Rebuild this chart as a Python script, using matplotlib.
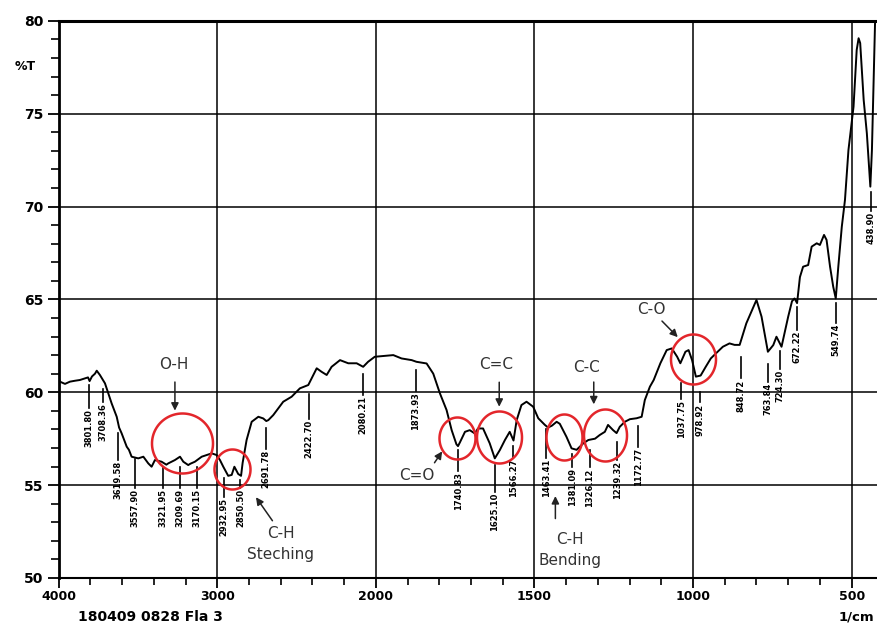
import numpy as np
import matplotlib
matplotlib.use("Agg")
import matplotlib.pyplot as plt
from matplotlib.path import Path
from matplotlib.ticker import FixedLocator

# espectro FTIR (1/cm, %T)
wavenumber = [4000, 3992, 3960, 3929, 3897, 3866, 3834, 3815, 3805, 3790, 3771, 3760,
              3740, 3708, 3687, 3666, 3634, 3619, 3603, 3571, 3557, 3540, 3498, 3466,
              3435, 3414, 3393, 3351, 3321, 3309, 3267, 3235, 3214, 3183, 3170, 3141,
              3098, 3067, 3035, 3004, 2983, 2962, 2931, 2909, 2892, 2868, 2850, 2840,
              2815, 2783, 2741, 2710, 2691, 2678, 2647, 2584, 2531, 2479, 2426, 2373,
              2342, 2310, 2279, 2226, 2174, 2121, 2080, 2049, 2007, 1977, 1945, 1919,
              1887, 1872, 1840, 1819, 1798, 1777, 1761, 1746, 1741, 1735, 1719, 1704,
              1688, 1678, 1662, 1641, 1625, 1609, 1593, 1578, 1566, 1556, 1541, 1525,
              1504, 1488, 1467, 1457, 1445, 1430, 1420, 1399, 1383, 1367, 1346, 1330,
              1309, 1294, 1278, 1268, 1252, 1241, 1231, 1215, 1199, 1178, 1162, 1152,
              1136, 1124, 1103, 1083, 1067, 1050, 1040, 1024, 1014, 1003, 991, 976,
              960, 944, 928, 906, 885, 869, 853, 832, 800, 784, 764, 747, 737, 721,
              700, 688, 680, 672, 663, 653, 637, 626, 610, 600, 587, 579, 568, 558,
              550, 542, 531, 521, 510, 494, 484, 478, 473, 462, 452, 441, 436, 431,
              426, 422]
transmittance = [60.75, 60.57, 60.45, 60.57, 60.62, 60.66, 60.75, 60.8, 60.6, 60.85, 61.0, 61.16,
                 60.93, 60.48, 59.94, 59.4, 58.68, 58.1, 57.79, 57.07, 56.9, 56.53, 56.44, 56.53,
                 56.17, 55.99, 56.35, 56.26, 56.1, 56.17, 56.35, 56.53, 56.26, 56.08, 56.15, 56.26,
                 56.53, 56.62, 56.71, 56.62, 56.35, 55.99, 55.5, 55.55, 55.99, 55.6, 55.5, 56.2,
                 57.43, 58.41, 58.68, 58.59, 58.45, 58.5, 58.77, 59.49, 59.76, 60.21, 60.39, 61.29,
                 61.1, 60.93, 61.37, 61.73, 61.56, 61.56, 61.37, 61.64, 61.91, 61.95, 62.0, 61.82,
                 61.73, 61.64, 61.55, 61.0, 59.94, 59.04, 57.96, 57.2, 57.1, 57.3, 57.87, 57.96,
                 57.78, 58.05, 58.05, 57.25, 56.44, 56.89, 57.43, 57.87, 57.4, 58.5, 59.31, 59.49,
                 59.22, 58.6, 58.24, 58.1, 58.2, 58.41, 58.3, 57.6, 56.98, 56.9, 57.25, 57.43,
                 57.5, 57.7, 57.87, 58.24, 57.96, 57.8, 58.14, 58.41, 58.55, 58.6, 58.68, 59.58,
                 60.3, 60.66, 61.56, 62.27, 62.36, 61.91, 61.56, 62.18, 62.27, 61.73, 60.84, 60.9,
                 61.37, 61.82, 62.09, 62.45, 62.63, 62.55, 62.55, 63.71, 64.97, 64.07, 62.18, 62.54, 62.99, 62.45,
                 64.07, 64.9, 65.05, 64.8, 66.2, 66.76, 66.85, 67.84, 68.02, 67.93, 68.47, 68.2, 66.76, 65.68,
                 65.05, 66.76, 68.91, 70.35, 73.04, 75.37, 78.43, 79.06, 78.8, 75.74, 73.94, 71.07, 73.04, 76.6,
                 80.0, 82.0]

# etiquetas de picos (valor del pico y posicion donde se imprime la etiqueta)
peak_wn = [3801.80, 3708.36, 3619.58, 3557.90, 3321.95, 3209.69, 3170.15, 2932.95,
           2850.50, 2691.78, 2422.70, 2080.21, 1873.93, 1740.83, 1625.10, 1566.27,
           1463.41, 1381.09, 1326.12, 1239.32, 1172.77, 1037.75, 978.92, 848.72,
           763.84, 724.30, 672.22, 549.74, 438.90]
label_wn = [3810, 3718, 3624, 3519, 3342, 3235, 3128, 2960,
            2854, 2691.78, 2422.70, 2080.21, 1873.93, 1740.83, 1625.10, 1566.27,
            1463.41, 1381.09, 1326.12, 1239.32, 1172.77, 1037.75, 978.92, 848.72,
            763.84, 724.30, 672.22, 549.74, 438.90]
peak_labels = ["%.2f" % w for w in peak_wn]
peak_tick_top = [60.4, 60.2, 57.8, 56.4, 56.0, 56.0, 56.0, 55.4, 55.3, 58.1, 59.9, 61.0,
                 61.2, 56.9, 56.1, 57.1, 58.0, 56.7, 56.9, 57.3, 58.2, 60.5, 60.0, 61.9,
                 61.5, 62.2, 64.6, 64.8, 70.8]
peak_text_top = [59.1, 59.4, 56.3, 54.8, 54.8, 54.8, 54.8, 54.3, 54.8, 56.9, 58.5, 59.8,
                 60.0, 55.7, 54.6, 56.4, 56.4, 55.9, 55.9, 56.3, 57.0, 59.6, 59.4, 60.7,
                 60.5, 61.2, 63.3, 63.7, 69.7]

# grupos funcionales marcados
group_names = ["O-H", "C-H\nSteching", "C=O", "C=C", "C-H\nBending", "C-C", "C-O"]
circle_wn = [3224, 2907, 1743, 1611, 1408, 1278, 1000]
circle_T = [57.26, 55.86, 57.52, 57.59, 57.59, 57.7, 61.77]
circle_w = [61, 36, 36, 45, 36, 43, 45]   # px
circle_h = [60, 40, 42, 52, 46, 52, 50]   # px
text_pos = [(3277, 61.52), (2600, 51.85), (1872, 55.54), (1621, 61.47),
            (1387, 51.5), (1335, 61.35), (1130, 64.46)]
arrow_tail = [(3267, 60.7), (2642, 52.96), (1820, 56.08), (1611, 60.69),
              (1434, 53.05), (1313, 60.7), (1104, 63.94)]
arrow_tip = [(3267, 58.86), (2766, 54.47), (1786, 56.94), (1611, 59.07),
             (1434, 54.56), (1313, 59.2), (1042, 62.86)]


def fwd(x):
    x = np.asarray(x, dtype=float)
    return np.where(x >= 2000, 2000 + (x - 2000) / 2.0, x)


def inv(u):
    u = np.asarray(u, dtype=float)
    return np.where(u >= 2000, 2000 + (u - 2000) * 2.0, u)


fig = plt.figure(figsize=(8.77, 6.26), dpi=100)
ax = fig.add_axes([0.0669, 0.0767, 0.9331, 0.8901])
ax.set_xscale("function", functions=(fwd, inv))
ax.set_xlim(4000, 420)
ax.set_ylim(50, 80)

ax.xaxis.set_major_locator(FixedLocator([4000, 3000, 2000, 1500, 1000, 500]))
ax.xaxis.set_minor_locator(FixedLocator(list(range(4000, 2000, -200)) + list(range(1900, 400, -100))))
ax.yaxis.set_major_locator(FixedLocator(range(50, 81, 5)))
ax.yaxis.set_minor_locator(FixedLocator(range(50, 81, 1)))
ax.tick_params(axis="x", which="major", length=7, width=1.3, labelsize=9, pad=2)
ax.tick_params(axis="x", which="minor", length=5, width=1.2)
ax.tick_params(axis="y", which="major", length=8, width=1.3, labelsize=10, pad=3)
ax.tick_params(axis="y", which="minor", length=6, width=1.2)
for lab in ax.get_xticklabels() + ax.get_yticklabels():
    lab.set_fontweight("bold")

ax.grid(True, which="major", color="black", lw=1.1)
ax.spines["left"].set_linewidth(2)
ax.spines["top"].set_linewidth(2.2)
ax.spines["bottom"].set_linewidth(1.5)
ax.spines["right"].set_visible(False)

ax.plot(wavenumber, transmittance, color="black", lw=1.4, zorder=3)

for w, lab, t0, t1 in zip(label_wn, peak_labels, peak_tick_top, peak_text_top):
    ax.plot([w, w], [t0, t1 + 0.05], color="black", lw=1.2, zorder=3)
    ax.text(w, t1, lab, rotation=90, ha="center", va="top", fontsize=6,
            fontweight="bold", zorder=4)

theta = np.linspace(0, 2 * np.pi, 120)
for w, t, cw, ch in zip(circle_wn, circle_T, circle_w, circle_h):
    marker = Path(np.column_stack([np.cos(theta) * cw, np.sin(theta) * ch]), closed=True)
    ax.plot([w], [t], marker=marker, ms=max(cw, ch) * 0.72, mfc="none",
            mec="#e3262b", mew=1.8, zorder=5)

for name, tp, tail, tip in zip(group_names, text_pos, arrow_tail, arrow_tip):
    ax.text(tp[0], tp[1], name, ha="center", va="center", fontsize=11,
            color="#333333", linespacing=1.5, zorder=6)
    ax.annotate("", xy=tip, xytext=tail,
                arrowprops=dict(arrowstyle="-|>", color="#222222", lw=1.1,
                                mutation_scale=11), zorder=6)

fig.text(25 / 877, 1 - 67 / 626, "%T", fontsize=9, fontweight="bold", ha="center", va="center")
fig.text(150 / 877, 1 - 617 / 626, "180409 0828 Fla 3", fontsize=10, fontweight="bold",
         ha="center", va="center")
fig.text(874 / 877, 1 - 617 / 626, "1/cm", fontsize=9.5, fontweight="bold",
         ha="right", va="center")

fig.savefig("out.png", dpi=100)
